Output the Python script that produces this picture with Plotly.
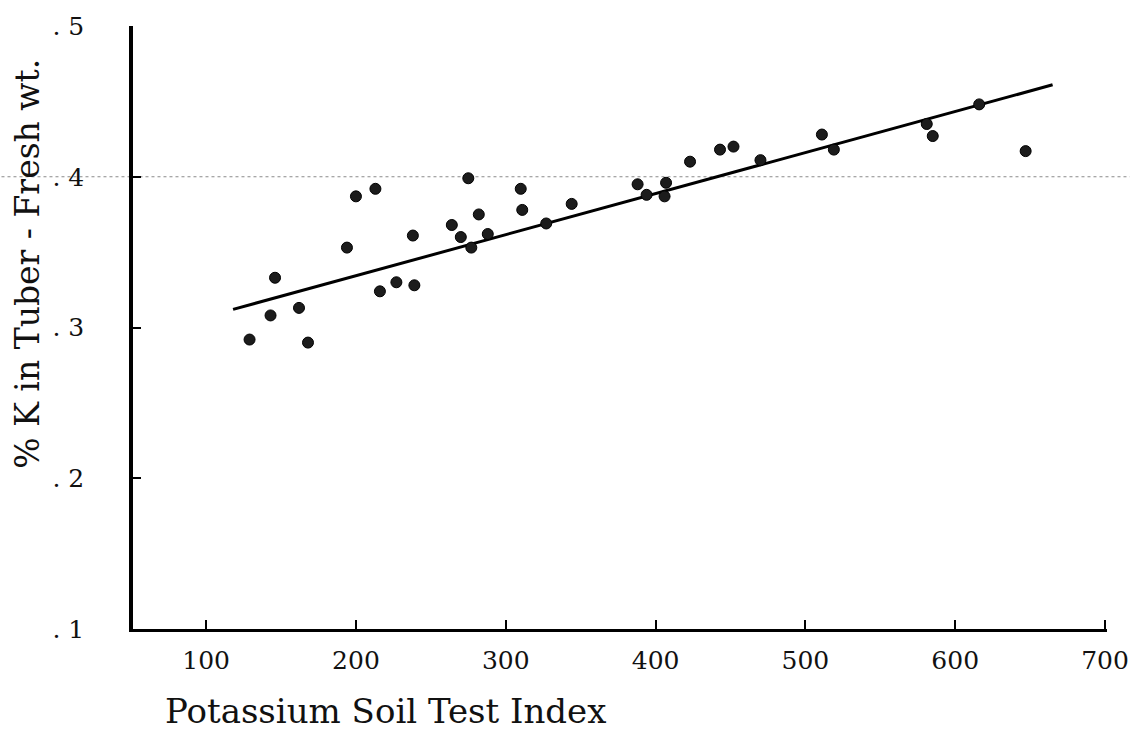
import plotly.graph_objects as go

# Data
soil_index = [129, 143, 146, 162, 168, 194, 200, 213, 216, 227, 239, 238,
              264, 270, 275, 277, 282, 288, 310, 311, 327, 344, 388, 394,
              407, 406, 423, 443, 452, 470, 511, 519, 581, 585, 616, 647]
k_tuber = [.292, .308, .333, .313, .290, .353, .387, .392, .324, .330, .328, .361,
           .368, .360, .399, .353, .375, .362, .392, .378, .369, .382, .395, .388,
           .396, .387, .410, .418, .420, .411, .428, .418, .435, .427, .448, .417]

fit_x = [118, 665]
fit_y = [0.312, 0.461]

x_ticks = [100, 200, 300, 400, 500, 600, 700]
x_tick_text = ["100", "200", "300", "400", "500", "600", "700"]
y_ticks = [0.1, 0.2, 0.3, 0.4, 0.5]
y_tick_text = [". 1", ". 2", ". 3", ". 4", ". 5"]

FONT = "DejaVu Serif"
INK = "#111111"

W, H = 1141, 736
plot_left, plot_right, plot_top, plot_bottom = 133, 1118, 17, 629
L = plot_left
R = W - plot_right
T = plot_top
B = H - plot_bottom
pw = W - L - R
ph = H - T - B


def px_to_paper_x(px):
    return (px - plot_left) / pw


def px_to_paper_y(py):
    return (plot_bottom - py) / ph


fig = go.Figure()
fig.add_trace(go.Scatter(x=fit_x, y=fit_y, mode="lines",
                         line=dict(color="black", width=3), hoverinfo="skip"))
fig.add_trace(go.Scatter(x=soil_index, y=k_tuber, mode="markers",
                         marker=dict(symbol="circle", size=11, color="#1c1c1c",
                                     line=dict(color="black", width=1))))

fig.add_shape(type="line", xref="paper", yref="y",
              x0=px_to_paper_x(0), x1=px_to_paper_x(W), y0=0.4, y1=0.4,
              line=dict(color="#8a8a8a", width=1, dash="dot"), layer="below")

fig.update_layout(
    width=W, height=H, autosize=False,
    margin=dict(l=L, r=R, t=T, b=B),
    plot_bgcolor="white", paper_bgcolor="white",
    showlegend=False,
    font=dict(family=FONT, color=INK, size=24),
)
fig.update_xaxes(range=[51.2, 701.3], tickvals=x_ticks, ticktext=x_tick_text,
                 showgrid=False, zeroline=False, showline=True,
                 linecolor="black", linewidth=3, ticks="inside", ticklen=9,
                 tickwidth=2, tickcolor="black", ticklabelstandoff=7,
                 ticklabeloverflow="allow",
                 tickfont=dict(family=FONT, size=25, color=INK))
fig.update_yaxes(range=[0.1, 0.5], tickvals=y_ticks, ticktext=y_tick_text,
                 showgrid=False, zeroline=False, showline=True,
                 linecolor="black", linewidth=3.5, ticks="inside", ticklen=8,
                 tickwidth=2, tickcolor="black", ticklabelstandoff=40,
                 ticklabeloverflow="allow",
                 tickfont=dict(family=FONT, size=25, color=INK))

fig.add_annotation(text="% K in Tuber - Fresh wt.", xref="paper", yref="paper",
                   x=px_to_paper_x(26), y=px_to_paper_y(258), textangle=-90,
                   showarrow=False, xanchor="center", yanchor="middle",
                   font=dict(family=FONT, size=33, color=INK))
fig.add_annotation(text="Potassium Soil Test Index", xref="paper", yref="paper",
                   x=px_to_paper_x(388), y=px_to_paper_y(712),
                   showarrow=False, xanchor="center", yanchor="middle",
                   font=dict(family=FONT, size=34, color=INK))

fig.write_html(
    "out.html",
    config={"displayModeBar": False},
    post_script="document.body.style.margin='0';document.body.style.overflow='hidden';",
)
